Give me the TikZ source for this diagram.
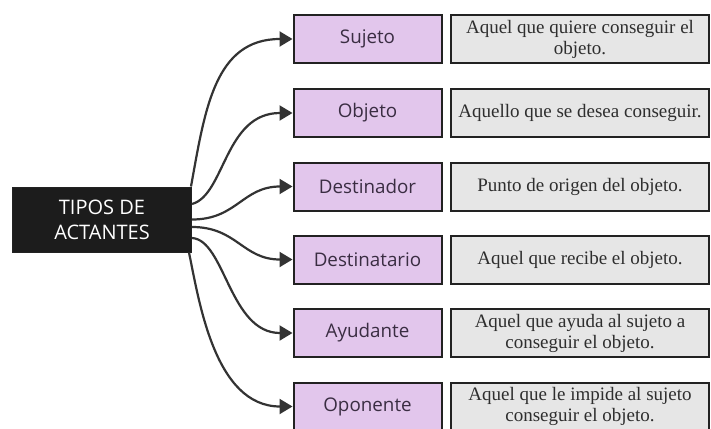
\documentclass[tikz,border=0pt]{standalone}
\usepackage{fontspec}
\setmainfont{Liberation Serif}
\newfontfamily\labelfont{Open Sans}
\usetikzlibrary{arrows.meta}
\definecolor{purp}{HTML}{E2C6EC}
\definecolor{grayfill}{HTML}{E6E6E6}
\definecolor{edgec}{HTML}{222222}
\definecolor{arrowc}{HTML}{333333}
\definecolor{labtext}{HTML}{3A2D42}
\definecolor{rootfill}{HTML}{1C1C1C}
\begin{document}
\begin{tikzpicture}[x=1pt,y=-1pt,
  role/.style={draw=edgec, line width=2pt, fill=purp, minimum width=148pt, minimum height=48pt, inner sep=0pt, font=\labelfont\fontsize{18.8}{21}\selectfont, text=labtext},
  desc/.style={draw=edgec, line width=2pt, fill=grayfill, minimum width=258pt, minimum height=48pt, inner sep=0pt, align=center, font=\fontsize{19}{21}\selectfont, text=black!82},
  root/.style={fill=rootfill, draw=edgec, line width=1pt, minimum width=179pt, minimum height=65pt, inner sep=0pt, align=center, text=white, font=\labelfont\fontsize{20}{25}\selectfont},
  conn/.style={draw=arrowc, line width=2.2pt, -{Triangle[length=13pt,width=15pt]}}]
\useasboundingbox[fill=white] (0,0) rectangle (711,428);

\node[root] (root) at (102,219.5) {TIPOS DE\\ACTANTES};

\node[role] (suj) at (367.5,39) {Sujeto};
\node[role] (obj) at (367.5,113) {Objeto};
\node[role] (dor) at (367.5,186.5) {Destinador};
\node[role] (rio) at (367.5,259.5) {Destinatario};
\node[role] (ayu) at (367.5,333) {Ayudante};
\node[role] (opo) at (367.5,406.5) {Oponente};

\node[desc] (dsuj) at (580,39) {Aquel que quiere conseguir el\\objeto.};
\node[desc] (dobj) at (580,113) {Aquello que se desea conseguir.};
\node[desc] (ddor) at (580,186.5) {Punto de origen del objeto.};
\node[desc] (drio) at (580,259.5) {Aquel que recibe el objeto.};
\node[desc] (dayu) at (580,333) {Aquel que ayuda al sujeto a\\conseguir el objeto.};
\node[desc] (dopo) at (580,406.5) {Aquel que le impide al sujeto\\conseguir el objeto.};

\coordinate (s1) at ([xshift=-1pt]root.north east);
\coordinate (s2) at ([yshift=15.5pt]root.east);
\coordinate (s3) at ([yshift=0pt]root.east);
\coordinate (s4) at ([yshift=-7.5pt]root.east);
\coordinate (s5) at ([yshift=-18.5pt]root.east);
\coordinate (s6) at ([xshift=-3pt]root.south east);

\draw[conn] (s1) .. controls +(14,-77) and +(-78,0) .. (suj.west);
\draw[conn] (s2) .. controls +(33,-9) and +(-68,0) .. (obj.west);
\draw[conn] (s3) .. controls +(45,0) and +(-50,0) .. (dor.west);
\draw[conn] (s4) .. controls +(45,0) and +(-50,0) .. (rio.west);
\draw[conn] (s5) .. controls +(33,2) and +(-63,0) .. (ayu.west);
\draw[conn] (s6) .. controls +(10,48) and +(-78,0) .. (opo.west);
\end{tikzpicture}
\end{document}
